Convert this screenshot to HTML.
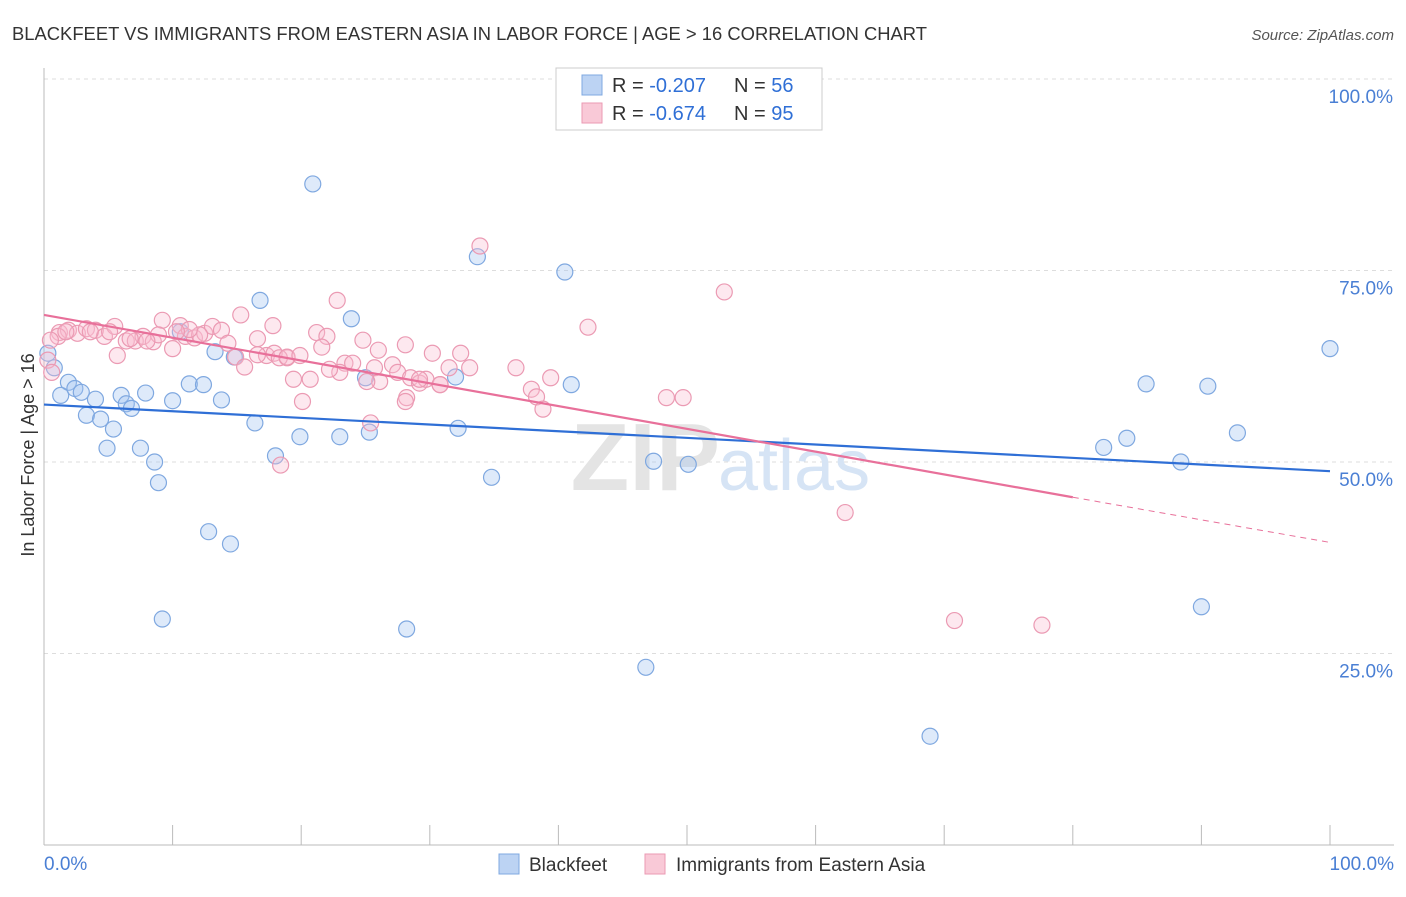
<!DOCTYPE html>
<html><head><meta charset="utf-8"><style>
body{margin:0;background:#fff;font-family:"Liberation Sans",sans-serif;}
svg text{font-family:"Liberation Sans",sans-serif;}
</style></head><body>
<svg id="chart" width="1406" height="892">
<text x="12" y="40" font-size="18.5" fill="#333" textLength="915" lengthAdjust="spacingAndGlyphs">BLACKFEET VS IMMIGRANTS FROM EASTERN ASIA IN LABOR FORCE | AGE &gt; 16 CORRELATION CHART</text>
<text x="1394" y="40" font-size="15" fill="#555" font-style="italic" text-anchor="end">Source: ZipAtlas.com</text>
<g id="grid"></g>
<text x="720" y="490" font-size="96" font-weight="bold" fill="#e4e4e4" text-anchor="end">ZIP</text>
<text x="718" y="490" font-size="72" fill="#d6e4f5">atlas</text>
<g id="marks"></g>
<text x="34" y="455" font-size="18" fill="#333" text-anchor="middle" transform="rotate(-90 34 455)">In Labor Force | Age &gt; 16</text>
<text x="44" y="870" font-size="19" fill="#4a7fd4">0.0%</text>
<text x="1394" y="870" font-size="19" fill="#4a7fd4" text-anchor="end">100.0%</text>
<g>
<rect x="556" y="68" width="266" height="62" fill="#fff" stroke="#ccc"/>
<rect x="582" y="75" width="20" height="20" fill="#bcd3f3" stroke="#7fa8e0"/>
<rect x="582" y="103" width="20" height="20" fill="#f9c9d7" stroke="#eb9ab3"/>
<text x="612" y="92" font-size="20" fill="#333">R = <tspan fill="#2f6fd6">-0.207</tspan><tspan x="734">N = </tspan><tspan fill="#2f6fd6">56</tspan></text>
<text x="612" y="120" font-size="20" fill="#333">R = <tspan fill="#2f6fd6">-0.674</tspan><tspan x="734">N = </tspan><tspan fill="#2f6fd6">95</tspan></text>
</g>
<g>
<rect x="499" y="854" width="20" height="20" fill="#bcd3f3" stroke="#7fa8e0"/>
<text x="529" y="871" font-size="19" fill="#333">Blackfeet</text>
<rect x="645" y="854" width="20" height="20" fill="#f9c9d7" stroke="#eb9ab3"/>
<text x="676" y="871" font-size="19" fill="#333">Immigrants from Eastern Asia</text>
</g>
</svg>
<script>
const yTicks=[25,50,75,100];
const yTickLabels=["25.0%","50.0%","75.0%","100.0%"];
const xTicks=[0,10,20,30,40,50,60,70,80,90,100];
const blueX=[20.9,33.7,40.5,16.8,23.9,13.3,10.6,14.8,0.8,1.9,1.3,2.4,2.9,4.0,3.3,4.4,5.4,4.9,6.0,6.4,6.8,7.9,7.5,8.6,8.9,10.0,11.3,12.4,13.8,16.4,18.0,19.9,23.0,25.0,25.3,32.2,32.0,34.8,41.0,47.4,50.1,12.8,14.5,9.2,28.2,46.8,68.9,85.7,90.5,92.8,100.0,82.4,84.2,88.4,90.0,0.3];
const blueY=[86.3,76.8,74.8,71.1,68.7,64.4,67.0,63.7,62.3,60.4,58.7,59.6,59.1,58.2,56.1,55.6,54.3,51.8,58.7,57.6,57.0,59.0,51.8,50.0,47.3,58.0,60.2,60.1,58.1,55.1,50.8,53.3,53.3,61.0,53.9,54.4,61.1,48.0,60.1,50.1,49.7,40.9,39.3,29.5,28.2,23.2,14.2,60.2,59.9,53.8,64.8,51.9,53.1,50.0,31.1,64.2];
const pinkX=[33.9,52.9,42.3,22.8,15.3,9.2,10.6,17.8,21.2,22.0,24.8,26.0,28.1,30.2,32.4,31.5,33.1,36.7,39.4,37.9,38.3,38.8,27.1,27.5,28.5,29.2,29.7,28.2,30.8,23.4,23.0,24.0,18.9,19.4,20.1,20.7,21.6,1.2,1.9,2.6,3.3,4.0,4.7,5.5,5.7,6.4,7.1,7.7,8.5,8.9,10.0,11.0,11.7,12.5,13.1,13.8,14.3,14.9,15.6,16.6,17.3,17.9,18.3,18.9,1.1,0.5,0.3,0.6,48.4,49.7,62.3,70.8,77.6,25.4,18.4,16.6,12.1,11.3,10.3,8.0,6.7,5.1,3.6,1.7,30.8,25.7,29.2,19.9,22.2,26.1,28.1,25.1];
const pinkY=[78.2,72.2,67.6,71.1,69.2,68.5,67.8,67.8,66.9,66.4,65.9,64.6,65.3,64.2,64.2,62.3,62.3,62.3,61.0,59.5,58.5,56.9,62.7,61.7,61.0,60.3,60.8,58.4,60.1,62.9,61.7,62.9,63.6,60.8,57.9,60.8,65.0,66.9,67.2,66.8,67.4,67.2,66.4,67.7,63.9,65.8,65.8,66.4,65.7,66.6,64.8,66.4,66.2,66.8,67.7,67.2,65.5,63.7,62.4,66.1,63.9,64.2,63.6,63.7,66.4,65.9,63.3,61.7,58.4,58.4,43.4,29.3,28.7,55.1,49.6,64.0,66.6,67.3,67.0,65.8,66.1,67.0,67.0,67.0,60.1,62.3,60.8,63.9,62.1,60.5,57.9,60.5];
const blueTrend=[[0,57.5],[100,48.8]];
const pinkTrend=[[0,69.2],[80,45.4]];
const pinkTrendExt=[[80,45.4],[100,39.5]];
const X=v=>44+v*12.86, Y=v=>845-v*7.66;
const ns="http://www.w3.org/2000/svg";
const grid=document.getElementById('grid'), marks=document.getElementById('marks');
function mk(tag,attrs,parent){const e=document.createElementNS(ns,tag);for(const k in attrs)e.setAttribute(k,attrs[k]);parent.appendChild(e);return e;}
yTicks.forEach((t,i)=>{
 const l=mk('line',{x1:44,x2:1394,y1:Y(t),y2:Y(t),stroke:'#ddd','stroke-dasharray':'4,4'},grid);
 
 
 const tx=mk('text',{x:1393,y:Y(t)+24,'font-size':19,fill:'#4a7fd4','text-anchor':'end'},grid);
 tx.textContent=yTickLabels[i];
 
 
});
const ax=mk('line',{x1:44,x2:1394,y1:845,y2:845,stroke:'#bbb'},grid);


const ay=mk('line',{x1:44,x2:44,y1:68,y2:845,stroke:'#bbb'},grid);


xTicks.forEach(t=>{
 const l=mk('line',{x1:X(t),x2:X(t),y1:825,y2:845,stroke:'#bbb'},grid);
 
 
});
blueX.forEach((v,i)=>{
 const c=mk('circle',{cx:X(v),cy:Y(blueY[i]),r:8,fill:'rgba(160,195,240,0.35)',stroke:'#7fa8e0','stroke-width':1.2},marks);
 
 
});
pinkX.forEach((v,i)=>{
 const c=mk('circle',{cx:X(v),cy:Y(pinkY[i]),r:8,fill:'rgba(248,190,208,0.35)',stroke:'#eb9ab3','stroke-width':1.2},marks);
 
 
});
const bt=mk('line',{x1:X(blueTrend[0][0]),y1:Y(blueTrend[0][1]),x2:X(blueTrend[1][0]),y2:Y(blueTrend[1][1]),stroke:'#2f6fd6','stroke-width':2.2},marks);


const pt=mk('line',{x1:X(pinkTrend[0][0]),y1:Y(pinkTrend[0][1]),x2:X(pinkTrend[1][0]),y2:Y(pinkTrend[1][1]),stroke:'#e8709a','stroke-width':2.2},marks);


const pe=mk('line',{x1:X(pinkTrendExt[0][0]),y1:Y(pinkTrendExt[0][1]),x2:X(pinkTrendExt[1][0]),y2:Y(pinkTrendExt[1][1]),stroke:'#e8709a','stroke-width':1,'stroke-dasharray':'6,5'},marks);


</script>
</body></html>
